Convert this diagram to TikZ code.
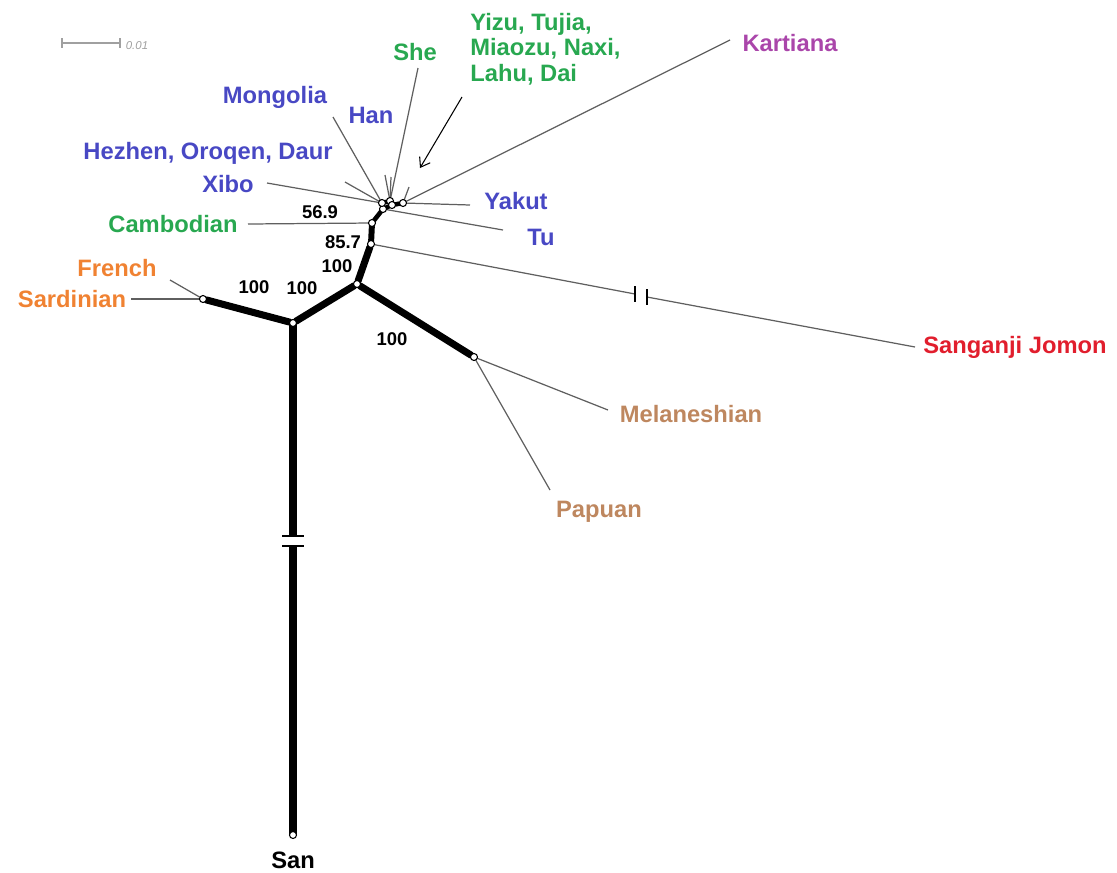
\documentclass[tikz,border=0pt]{standalone}
\usepackage{fontspec}
\setmainfont{Liberation Sans}
\usetikzlibrary{backgrounds,arrows.meta}

\definecolor{popblue}{RGB}{72,72,196}
\definecolor{popgreen}{RGB}{40,168,80}
\definecolor{poporange}{RGB}{240,130,50}
\definecolor{popred}{RGB}{225,30,45}
\definecolor{poppurple}{RGB}{170,70,170}
\definecolor{popbrown}{RGB}{190,135,95}
\definecolor{leafgray}{RGB}{95,95,95}
\definecolor{scalegray}{RGB}{160,160,160}

\begin{document}
\begin{tikzpicture}[x=0.02cm, y=-0.02cm]
        \useasboundingbox (0,0) rectangle (1117,873);
        % inner vertices of the tree
        \begin{scope}[every node/.style={circle,draw=black,fill=white,inner sep=0pt,outer sep=0pt,minimum size=4pt,line width=0.6pt}]
            \node (sard) at (203,299) {};
            \node (root) at (293,323) {};
            \node (east) at (357,284) {};
            \node (mela) at (474,357) {};
            \node (n857) at (371,244) {};
            \node (n569) at (372,223) {};
            \node (c1) at (383,209) {};
            \node (c2) at (382,203) {};
            \node (c3) at (390,201) {};
            \node (c4) at (392,205) {};
            \node (c5) at (403,203) {};
            \node (san) at (293,835) {};
        \end{scope}
        % free ends of the leaf branches
        \coordinate (frenchend) at (170,280);
        \coordinate (sardend) at (131,299);
        \coordinate (cambend) at (248,224);
        \coordinate (xiboend) at (267,183);
        \coordinate (hezhenend) at (345,182);
        \coordinate (mongend) at (333,117);
        \coordinate (hanend) at (385,175);
        \coordinate (hanend2) at (391,177);
        \coordinate (sheend) at (418,68);
        \coordinate (yizuend) at (409,187);
        \coordinate (kartend) at (730,40);
        \coordinate (yakutend) at (470,205);
        \coordinate (tuend) at (503,230);
        \coordinate (jomonend) at (915,347);
        \coordinate (melaend) at (608,410);
        \coordinate (papuaend) at (550,490);
        \coordinate (brk1) at (293,536);
        \coordinate (brk2) at (293,546);
        \coordinate (jbrk1) at (635,294);
        \coordinate (jbrk2) at (647,297);
        \coordinate (arrowtail) at (462,97);
        \coordinate (arrowhead) at (420,168);
        % labels
        \begin{scope}[every node/.style={inner sep=0pt,font=\bfseries\fontsize{13.5}{14.5}\selectfont}]
            \node[text=popblue] (mongolia) at (275,97) {Mongolia};
            \node[text=popblue] (han) at (371,115) {Han};
            \node[text=popblue] (hezhen) at (208,153) {Hezhen, Oroqen, Daur};
            \node[text=popblue] (xibo) at (228,184) {Xibo};
            \node[text=popblue] (yakut) at (516,201) {Yakut};
            \node[text=popblue] (tu) at (541,237) {Tu};
            \node[text=popgreen] (cambodian) at (173,224) {Cambodian};
            \node[text=popgreen] (she) at (415,52) {She};
            \node[text=popgreen,anchor=west,align=left] (yizu) at (470,49) {Yizu, Tujia,\\Miaozu, Naxi,\\Lahu, Dai};
            \node[text=poppurple] (kartiana) at (790,43) {Kartiana};
            \node[text=poporange] (french) at (117,268) {French};
            \node[text=poporange] (sardinian) at (72,299) {Sardinian};
            \node[text=popred] (jomon) at (1015,347) {Sanganji Jomon};
            \node[text=popbrown] (melanesian) at (691,414) {Melaneshian};
            \node[text=popbrown] (papuan) at (599,512) {Papuan};
            \node (sanlabel) at (293,860) {San};
        \end{scope}
        % bootstrap values
        \begin{scope}[every node/.style={inner sep=0pt,font=\bfseries\fontsize{10.5}{12}\selectfont}]
            \node (b569) at (320,212) {56.9};
            \node (b857) at (343,242) {85.7};
            \node (b100a) at (337,266) {100};
            \node (b100b) at (254,287) {100};
            \node (b100c) at (302,288) {100};
            \node (b100d) at (392,339) {100};
        \end{scope}
        % scale bar
        \draw[scalegray, line width=0.8pt] (62,43) -- (120,43);
        \draw[scalegray, line width=0.8pt] (62,38) -- (62,48) (120,38) -- (120,48);
        \node[scalegray, inner sep=0pt, font=\itshape\fontsize{6.5}{7}\selectfont] (scalelabel) at (137,46) {0.01};
        \begin{pgfonlayer}{background}
            \begin{scope}[every edge/.style={draw=leafgray,line width=0.7pt}]
                \draw (sard) edge (frenchend) (sard) edge (sardend);
                \draw (n569) edge (cambend);
                \draw (c2) edge (xiboend) (c2) edge (hezhenend) (c2) edge (mongend);
                \draw (c3) edge (hanend) (c3) edge (hanend2) (c3) edge (sheend);
                \draw (c5) edge (yizuend) (c5) edge (kartend) (c5) edge (yakutend);
                \draw (c1) edge (tuend);
                \draw (n857) edge (jbrk1) (jbrk2) edge (jomonend);
                \draw (mela) edge (melaend) (mela) edge (papuaend);
            \end{scope}
            \begin{scope}[every edge/.style={draw=black,line width=4pt,line cap=round}]
                \draw (sard) edge (root);
                \draw (root) edge (east);
                \draw (east) edge (mela);
                \draw (east) edge (n857);
                \draw[every edge/.append style={line width=3.4pt}] (n857) edge (n569);
                \draw[every edge/.append style={line width=2.6pt}] (n569) edge (c1) (c1) edge (c2) (c1) edge (c4) (c4) edge (c5) (c2) edge (c3);
                \draw[every edge/.append style={line cap=butt}] (root.center) edge (brk1);
                \draw[every edge/.append style={line cap=butt}] (brk2) edge (san.center);
            \end{scope}
        \end{pgfonlayer}
        % breaks on the long branches
        \draw[line width=1.1pt] (brk1) ++(-11,0) -- ++(22,0);
        \draw[line width=1.1pt] (brk2) ++(-11,0) -- ++(22,0);
        \draw[line width=0.8pt] (jbrk1) ++(0,-8) -- ++(0,16);
        \draw[line width=0.8pt] (jbrk2) ++(0,-8) -- ++(0,16);
        \draw[-{Straight Barb[length=5pt,width=7pt]}, line width=0.6pt] (arrowtail) -- (arrowhead);
\end{tikzpicture}
\end{document}
